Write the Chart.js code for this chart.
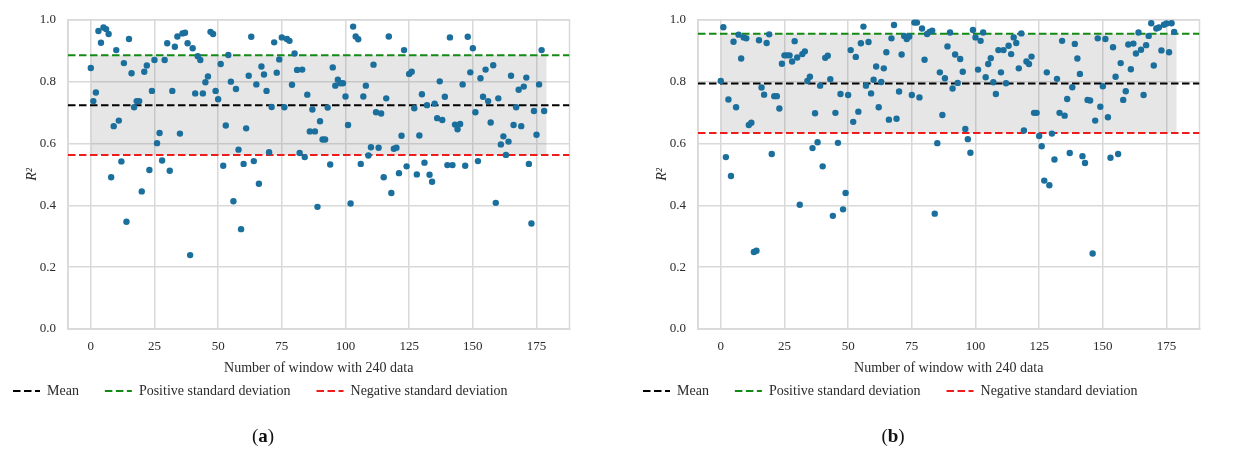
<!DOCTYPE html>
<html>
<head>
<meta charset="utf-8">
<script src="https://cdn.jsdelivr.net/npm/chart.js@4.4.1/dist/chart.umd.min.js"></script>
<style>
  html, body { margin: 0; padding: 0; background: #ffffff; }
  body { width: 1260px; height: 452px; position: relative; overflow: hidden; }
  .panel { position: absolute; top: 0; width: 630px; height: 452px; }
  .cap { position: absolute; top: 425px; width: 526px; text-align: center;
         font-family: 'Liberation Serif', 'Times New Roman', serif; font-size: 19px; line-height: 22px; color: #111; }
</style>
</head>
<body>
<div class="panel" style="left:0"><canvas id="chartA"></canvas></div>
<div class="panel" style="left:630px"><canvas id="chartB"></canvas></div>
<div class="cap" style="left:0">(<b>a</b>)</div>
<div class="cap" style="left:630px">(<b>b</b>)</div>
<script>
// ---------------- data ----------------
const r2A = [
  0.844, 0.737, 0.765, 0.964, 0.926, 0.975, 0.970, 0.954, 0.491, 0.656,
  0.902, 0.674, 0.542, 0.860, 0.347, 0.938, 0.827, 0.717, 0.737, 0.737,
  0.445, 0.832, 0.852, 0.514, 0.770, 0.870, 0.601, 0.634, 0.545, 0.870,
  0.924, 0.512, 0.770, 0.913, 0.946, 0.632, 0.956, 0.958, 0.924, 0.239,
  0.908, 0.762, 0.882, 0.870, 0.762, 0.798, 0.817, 0.961, 0.954, 0.770,
  0.743, 0.857, 0.528, 0.658, 0.886, 0.800, 0.413, 0.776, 0.580, 0.323,
  0.534, 0.649, 0.819, 0.945, 0.543, 0.791, 0.470, 0.849, 0.823, 0.770,
  0.572, 0.718, 0.927, 0.829, 0.872, 0.943, 0.717, 0.938, 0.932, 0.790,
  0.891, 0.838, 0.569, 0.839, 0.556, 0.758, 0.639, 0.710, 0.639, 0.395,
  0.672, 0.613, 0.613, 0.716, 0.532, 0.846, 0.787, 0.806, 0.795, 0.795,
  0.752, 0.660, 0.406, 0.978, 0.946, 0.937, 0.534, 0.752, 0.787, 0.561,
  0.588, 0.855, 0.701, 0.586, 0.697, 0.491, 0.746, 0.946, 0.440, 0.583,
  0.586, 0.504, 0.625, 0.902, 0.526, 0.825, 0.832, 0.714, 0.500, 0.626,
  0.759, 0.538, 0.724, 0.499, 0.476, 0.729, 0.682, 0.801, 0.676, 0.751,
  0.530, 0.943, 0.530, 0.661, 0.646, 0.663, 0.791, 0.528, 0.945, 0.830,
  0.908, 0.701, 0.543, 0.811, 0.751, 0.839, 0.737, 0.668, 0.853, 0.408,
  0.746, 0.597, 0.623, 0.563, 0.606, 0.819, 0.660, 0.717, 0.774, 0.656,
  0.784, 0.813, 0.534, 0.341, 0.705, 0.628, 0.791, 0.902, 0.705
];
const r2B = [
  0.802, 0.976, 0.556, 0.742, 0.495, 0.929, 0.717, 0.952, 0.875, 0.943,
  0.940, 0.660, 0.667, 0.249, 0.253, 0.934, 0.781, 0.758, 0.925, 0.953,
  0.566, 0.753, 0.753, 0.713, 0.858, 0.885, 0.885, 0.885, 0.865, 0.931,
  0.878, 0.402, 0.889, 0.898, 0.802, 0.816, 0.585, 0.698, 0.604, 0.787,
  0.526, 0.877, 0.884, 0.808, 0.366, 0.699, 0.602, 0.760, 0.387, 0.440,
  0.757, 0.902, 0.670, 0.880, 0.703, 0.924, 0.978, 0.787, 0.928, 0.762,
  0.806, 0.849, 0.717, 0.799, 0.843, 0.895, 0.677, 0.940, 0.983, 0.680,
  0.768, 0.888, 0.948, 0.938, 0.946, 0.757, 0.991, 0.991, 0.749, 0.972,
  0.871, 0.954, 0.961, 0.965, 0.373, 0.601, 0.830, 0.692, 0.811, 0.914,
  0.959, 0.778, 0.888, 0.796, 0.873, 0.832, 0.647, 0.614, 0.570, 0.967,
  0.943, 0.839, 0.932, 0.959, 0.814, 0.857, 0.876, 0.798, 0.760, 0.902,
  0.830, 0.902, 0.795, 0.916, 0.889, 0.943, 0.925, 0.843, 0.956, 0.642,
  0.865, 0.857, 0.881, 0.699, 0.699, 0.624, 0.591, 0.480, 0.830, 0.465,
  0.632, 0.548, 0.809, 0.699, 0.932, 0.690, 0.744, 0.569, 0.782, 0.922,
  0.875, 0.825, 0.559, 0.537, 0.741, 0.739, 0.244, 0.674, 0.940, 0.719,
  0.785, 0.938, 0.685, 0.554, 0.911, 0.816, 0.566, 0.860, 0.741, 0.769,
  0.920, 0.840, 0.923, 0.891, 0.959, 0.903, 0.757, 0.918, 0.948, 0.989,
  0.852, 0.972, 0.975, 0.901, 0.984, 0.988, 0.895, 0.989, 0.961
];
// window numbers (x categories) of the two series
const windowsA = r2A.map((_, i) => i);
const windowsB = r2B.map((_, i) => i);

// statistics lines
const meanA = 0.724, plusStdA = 0.885, minusStdA = 0.563;
const meanB = 0.794, plusStdB = 0.955, minusStdB = 0.634;

// tick labels
const xTickValues = [0, 25, 50, 75, 100, 125, 150, 175];
const yTickValues = [0.0, 0.2, 0.4, 0.6, 0.8, 1.0];
const legendLabels = ['Mean', 'Positive standard deviation', 'Negative standard deviation'];
const xTitle = 'Number of window with 240 data';
const yTitle = 'R\u00B2';

// ---------------- styling ----------------
const X_MIN = -8.95, X_MAX = 187.95;
const BAND_START = 0, BAND_END = 179;
const FONT = "'Liberation Serif', 'Times New Roman', serif";
const TXT = '#2a2a2a';
const GRID = '#d9d9d9';
const PT = '#1b6f9d';
const DASH = [7.5, 3.5];

const framePlugin = {
  id: 'frame',
  beforeDatasetsDraw(chart) {
    const a = chart.chartArea, ctx = chart.ctx;
    ctx.save();
    ctx.strokeStyle = GRID;
    ctx.lineWidth = 1.5;
    ctx.strokeRect(a.left, a.top, a.right - a.left, a.bottom - a.top);
    ctx.restore();
  }
};
const legendPlace = {
  id: 'legendPlace',
  afterLayout(chart) {
    const lg = chart.legend;
    const w = lg.right - lg.left, h = lg.bottom - lg.top;
    lg.left = 13 - 26; lg.right = lg.left + w;
    lg.top = 358; lg.bottom = lg.top + h;
  }
};

function makeChart(id, windows, values, mean, plus, minus) {
  const lineDs = (label, y, color) => ({
    type: 'line', label,
    data: [{x: X_MIN, y}, {x: X_MAX, y}],
    borderColor: color, backgroundColor: color,
    borderWidth: 2, borderDash: DASH,
    pointRadius: 0, fill: false, tension: 0
  });
  return new Chart(document.getElementById(id), {
    type: 'scatter',
    data: {
      datasets: [
        { type: 'scatter', label: 'R2',
          data: values.map((y, i) => ({x: windows[i], y})),
          backgroundColor: PT, borderColor: PT, borderWidth: 0,
          pointRadius: 3.2, pointHoverRadius: 3.2, clip: false },
        lineDs(legendLabels[0], mean, '#000000'),
        lineDs(legendLabels[1], plus, '#138a13'),
        lineDs(legendLabels[2], minus, '#f01c1c'),
        { type: 'line', label: 'band',
          data: [{x: BAND_START, y: plus}, {x: BAND_END, y: plus}],
          borderWidth: 0, borderColor: 'rgba(0,0,0,0)', pointRadius: 0,
          backgroundColor: 'rgba(128,128,128,0.2)', fill: {value: minus} }
      ]
    },
    options: {
      responsive: true, maintainAspectRatio: false, animation: false,
      devicePixelRatio: 1,
      layout: { padding: { top: 19, left: 0, right: 60.5, bottom: 23 } },
      plugins: {
        tooltip: { enabled: false },
        legend: {
          position: 'bottom', align: 'start',
          labels: {
            generateLabels: chart => Chart.defaults.plugins.legend.labels.generateLabels(chart).map(item => {
              const ds = chart.data.datasets[item.datasetIndex];
              item.lineDash = ds.borderDash || [];
              item.lineWidth = ds.borderWidth;
              item.strokeStyle = ds.borderColor;
              item.lineCap = 'butt';
              return item;
            }),
            filter: item => legendLabels.includes(item.text),
            usePointStyle: true, pointStyle: 'line', pointStyleWidth: 27,
            padding: 26, color: TXT, font: { family: FONT, size: 14 }
          }
        }
      },
      scales: {
        x: {
          type: 'linear', min: X_MIN, max: X_MAX,
          afterBuildTicks: s => { s.ticks = xTickValues.map(v => ({value: v})); },
          afterFit: s => { s.height = 50; },
          ticks: { color: TXT, font: { family: FONT, size: 13 }, padding: 10,
                   maxRotation: 0, callback: v => String(v) },
          grid: { color: GRID, lineWidth: 1.5, drawTicks: false },
          border: { display: true, color: GRID, width: 1.5 },
          title: { display: true, text: xTitle, color: TXT,
                   font: { family: FONT, size: 14 }, padding: { top: 0, bottom: 2 } }
        },
        y: {
          min: 0, max: 1,
          afterBuildTicks: s => { s.ticks = yTickValues.map(v => ({value: v})); },
          afterFit: s => { s.width = 68; },
          ticks: { color: TXT, font: { family: FONT, size: 13 }, padding: 12,
                   callback: v => Number(v).toFixed(1) },
          grid: { color: GRID, lineWidth: 1.5, drawTicks: false },
          border: { display: true, color: GRID, width: 1.5 },
          title: { display: true, text: yTitle, color: TXT,
                   font: { family: FONT, size: 14, style: 'italic' }, padding: { top: 24, bottom: 0 } }
        }
      }
    },
    plugins: [framePlugin, legendPlace]
  });
}

makeChart('chartA', windowsA, r2A, meanA, plusStdA, minusStdA);
makeChart('chartB', windowsB, r2B, meanB, plusStdB, minusStdB);
</script>
</body>
</html>
